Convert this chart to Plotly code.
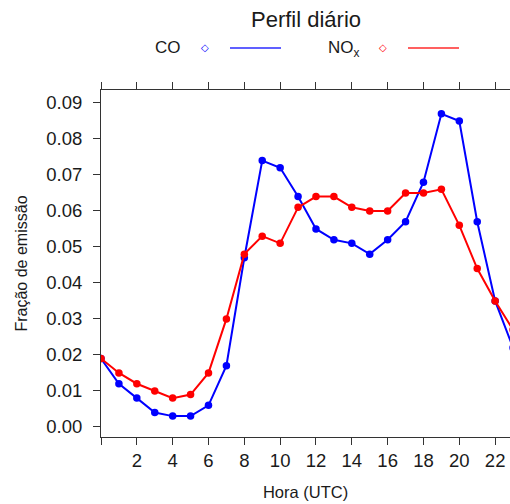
import plotly.graph_objects as go

hours = list(range(24))
co = [0.019, 0.012, 0.008, 0.004, 0.003, 0.003, 0.006, 0.017, 0.047, 0.074, 0.072, 0.064,
      0.055, 0.052, 0.051, 0.048, 0.052, 0.057, 0.068, 0.087, 0.085, 0.057, 0.035, 0.022]
nox = [0.019, 0.015, 0.012, 0.010, 0.008, 0.009, 0.015, 0.030, 0.048, 0.053, 0.051, 0.061,
       0.064, 0.064, 0.061, 0.060, 0.060, 0.065, 0.065, 0.066, 0.056, 0.044, 0.035, 0.027]
x_ticks = list(range(2, 23, 2))
x_ticktext = [str(v) for v in x_ticks]
y_ticks = [0.00, 0.01, 0.02, 0.03, 0.04, 0.05, 0.06, 0.07, 0.08, 0.09]

BLUE = "#0000FF"
RED = "#FF0000"
FONT = "Liberation Sans, Arial, sans-serif"
TXT = "#1a1a1a"

fig = go.Figure()
fig.add_trace(go.Scatter(x=hours, y=co, mode="lines+markers", name="CO",
                         line=dict(color=BLUE, width=2), marker=dict(color=BLUE, size=7.5),
                         showlegend=False))
fig.add_trace(go.Scatter(x=hours, y=nox, mode="lines+markers", name="NOx",
                         line=dict(color=RED, width=2), marker=dict(color=RED, size=7.5),
                         showlegend=False))

W, H = 510, 504
L, R, T, B = 101, 0, 90, 67
pw, ph = W - L - R, H - T - B

def px(x):
    return (x - L) / pw

def py(y):
    return (H - B - y) / ph

annotations = [
    dict(text="CO", xref="paper", yref="paper", x=px(183), y=py(47), xanchor="right", yanchor="middle",
         showarrow=False, font=dict(size=17, color=TXT, family=FONT)),
    dict(text="◇", xref="paper", yref="paper", x=px(205), y=py(47), xanchor="center", yanchor="middle",
         showarrow=False, font=dict(size=10, color=BLUE, family="DejaVu Sans")),
    dict(text="NO<sub>x</sub>", xref="paper", yref="paper", x=px(362), y=py(49), xanchor="right",
         yanchor="middle", showarrow=False, font=dict(size=17, color=TXT, family=FONT)),
    dict(text="◇", xref="paper", yref="paper", x=px(383), y=py(47), xanchor="center", yanchor="middle",
         showarrow=False, font=dict(size=10, color=RED, family="DejaVu Sans")),
]
shapes = [
    dict(type="line", xref="paper", yref="paper", x0=px(230), x1=px(281), y0=py(48), y1=py(48),
         line=dict(color="#6060FF", width=2)),
    dict(type="line", xref="paper", yref="paper", x0=px(408), x1=px(459), y0=py(48), y1=py(48),
         line=dict(color="#FF6060", width=2)),
]

fig.update_layout(
    width=W, height=H,
    margin=dict(l=L, r=R, t=T, b=B),
    paper_bgcolor="white", plot_bgcolor="white",
    font=dict(family=FONT, color=TXT),
    title=dict(text="Perfil diário", x=(306 / W), xanchor="center", y=1 - 19 / H, yanchor="middle",
               font=dict(size=22, color=TXT, family=FONT)),
    annotations=annotations, shapes=shapes,
    xaxis=dict(range=[0, (W - L) / ((495 - 136.7) / 20)], tickvals=x_ticks, ticktext=x_ticktext,
               showgrid=False, zeroline=False, showline=True, linecolor="#333", linewidth=1,
               mirror="ticks", ticks="outside", ticklen=7, tickcolor="#333",
               minor=dict(tick0=0, dtick=48, ticks="outside", ticklen=7, tickcolor="#333", showgrid=False),
               tickfont=dict(size=18.5, color=TXT),
               title=dict(text="Hora (UTC)", font=dict(size=16.5, color=TXT), standoff=16)),
    yaxis=dict(range=[-0.0028, 0.0936], tickvals=y_ticks, tickformat=".2f",
               showgrid=False, zeroline=False, showline=True, linecolor="#333", linewidth=1,
               ticks="outside", ticklen=7, tickcolor="#333", ticklabelstandoff=7,
               tickfont=dict(size=18.5, color=TXT),
               title=dict(text="Fração de emissão", font=dict(size=16, color=TXT), standoff=14)),
)

fig.write_html("out.html")
